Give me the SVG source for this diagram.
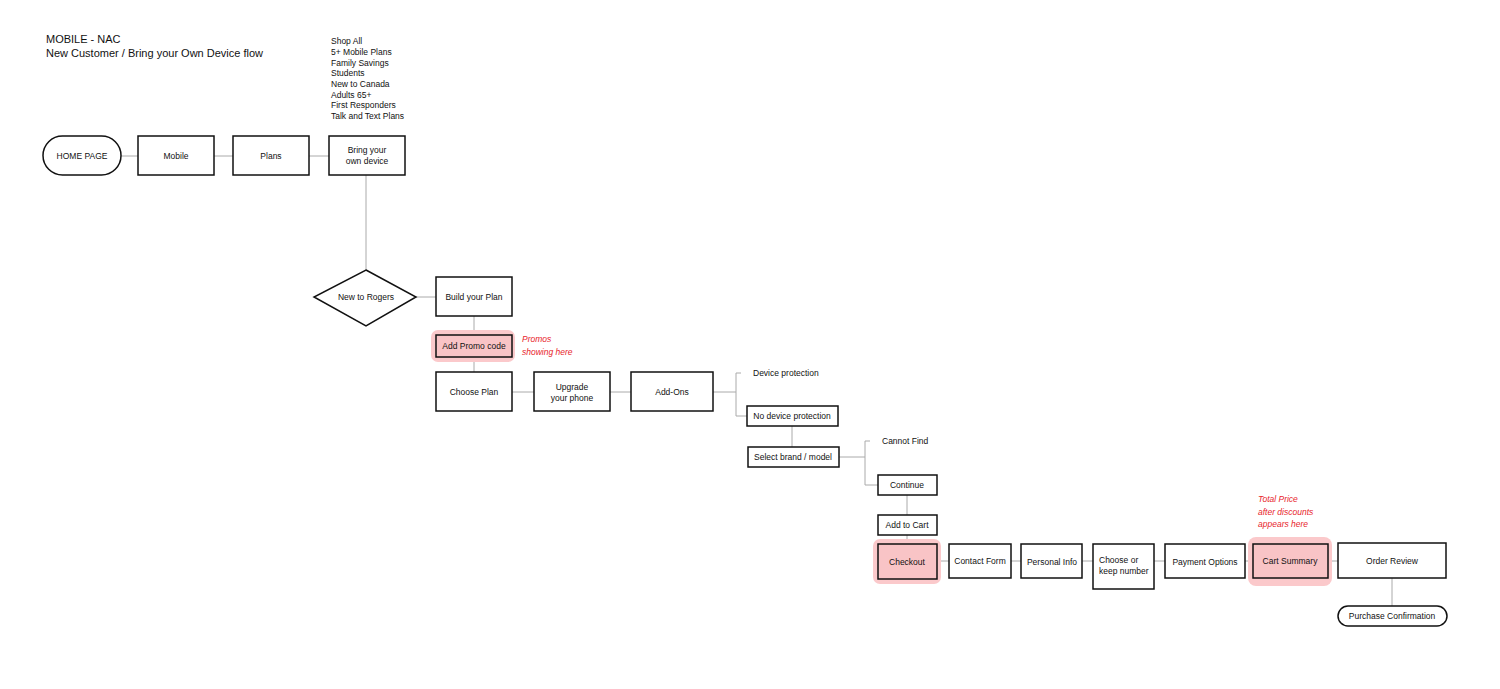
<svg xmlns="http://www.w3.org/2000/svg" width="1500" height="689" viewBox="0 0 1500 689">
<style>
text{font-family:"Liberation Sans",Arial,sans-serif;font-size:8.5px;fill:#111}
.b{fill:#fff;stroke:#111;stroke-width:1.5}
.p{fill:#f9c4c6;stroke:#111;stroke-width:1.5}
.hl{fill:#fbc9cb}
.c{fill:none;stroke:#aaa;stroke-width:1}
.t{text-anchor:middle}
.r{fill:#e8242b;font-style:italic;font-size:8.5px}
.h{font-size:11px}
</style>
<rect width="1500" height="689" fill="#fff"/>
<text class="h" x="46" y="43">MOBILE - NAC</text>
<text class="h" x="46" y="57">New Customer / Bring your Own Device flow</text>
<g id="menu"><text x="331" y="44">Shop All</text><text x="331" y="55">5+ Mobile Plans</text><text x="331" y="66">Family Savings</text><text x="331" y="76">Students</text><text x="331" y="87">New to Canada</text><text x="331" y="98">Adults 65+</text><text x="331" y="108">First Responders</text><text x="331" y="119">Talk and Text Plans</text></g>
<g id="connectors">
<path class="c" d="M121 156H138M214 156H233M309 156H329M366 175V270M416 297H436M474 316V335M474 357V372M512 392H534M610 392H631M713 392H736M741 373H736V416H747M792 426V447M839 457H865M870 441H865V485H878M907 495V515M907 535V544M937 561H949M1011 561H1021M1082 561H1093M1154 561H1165M1245 561H1253M1328 561H1338M1392 578V606"/>
</g>
<g id="home"><rect class="b" x="43" y="136" width="78" height="39" rx="19.5"/><text class="t" x="82" y="159">HOME PAGE</text></g>
<g id="mobile"><rect class="b" x="138" y="136" width="76" height="39"/><text class="t" x="176" y="159">Mobile</text></g>
<g id="plans"><rect class="b" x="233" y="136" width="76" height="39"/><text class="t" x="271" y="159">Plans</text></g>
<g id="byod"><rect class="b" x="329" y="136" width="76" height="39"/><text class="t" x="367" y="153">Bring your</text><text class="t" x="367" y="164">own device</text></g>
<g id="newto"><polygon class="b" points="366,270 416,297 366,326 314,297"/><text class="t" x="366" y="300">New to Rogers</text></g>
<g id="build"><rect class="b" x="436" y="277" width="76" height="39"/><text class="t" x="474" y="300">Build your Plan</text></g>
<g id="promo"><rect class="hl" x="431" y="330" width="84" height="32" rx="7"/><rect class="p" x="436" y="335" width="76" height="22"/><text class="t" x="474" y="349">Add Promo code</text></g>
<text class="r" x="522" y="342">Promos</text><text class="r" x="522" y="355">showing here</text>
<g id="choose"><rect class="b" x="436" y="372" width="76" height="39"/><text class="t" x="474" y="395">Choose Plan</text></g>
<g id="upgrade"><rect class="b" x="534" y="372" width="76" height="39"/><text class="t" x="572" y="390">Upgrade</text><text class="t" x="572" y="401">your phone</text></g>
<g id="addons"><rect class="b" x="631" y="372" width="82" height="39"/><text class="t" x="672" y="395">Add-Ons</text></g>
<text x="753" y="376">Device protection</text>
<g id="nodev"><rect class="b" x="747" y="406" width="91" height="20"/><text class="t" x="792" y="419">No device protection</text></g>
<g id="brand"><rect class="b" x="748" y="447" width="91" height="20"/><text class="t" x="793" y="460">Select brand / model</text></g>
<text x="882" y="444">Cannot Find</text>
<g id="continue"><rect class="b" x="878" y="475" width="59" height="20"/><text class="t" x="907" y="488">Continue</text></g>
<g id="cart"><rect class="b" x="878" y="515" width="59" height="20"/><text class="t" x="907" y="528">Add to Cart</text></g>
<g id="checkout"><rect class="hl" x="873" y="539" width="68" height="45" rx="7"/><rect class="p" x="878" y="544" width="59" height="35"/><text class="t" x="907" y="565">Checkout</text></g>
<g id="contact"><rect class="b" x="949" y="544" width="62" height="34"/><text class="t" x="980" y="564">Contact Form</text></g>
<g id="personal"><rect class="b" x="1021" y="544" width="61" height="34"/><text class="t" x="1052" y="565">Personal Info</text></g>
<g id="keep"><rect class="b" x="1093" y="544" width="61" height="45"/><text x="1099" y="563">Choose or</text><text x="1099" y="574">keep number</text></g>
<g id="payment"><rect class="b" x="1165" y="544" width="80" height="34"/><text class="t" x="1205" y="565">Payment Options</text></g>
<g id="summary"><rect class="hl" x="1248" y="537" width="84" height="49" rx="8"/><rect class="p" x="1253" y="544" width="75" height="34"/><text class="t" x="1290" y="564">Cart Summary</text></g>
<text class="r" x="1258" y="502">Total Price</text><text class="r" x="1258" y="515">after discounts</text><text class="r" x="1258" y="527">appears here</text>
<g id="review"><rect class="b" x="1338" y="543" width="108" height="35"/><text class="t" x="1392" y="564">Order Review</text></g>
<g id="confirm"><rect class="b" x="1338" y="606" width="109" height="20" rx="10"/><text class="t" x="1392" y="619">Purchase Confirmation</text></g>
</svg>
